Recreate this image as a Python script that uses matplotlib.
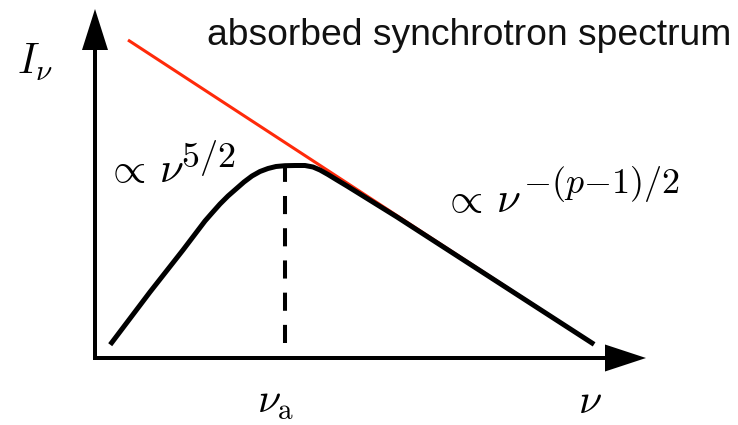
import matplotlib
matplotlib.use("Agg")
import matplotlib.pyplot as plt

plt.rcParams['mathtext.fontset'] = 'cm'

# spectrum shape (arbitrary units, log-log schematic)
nu = [0.334, 1.10, 1.76, 2.20, 2.34, 2.50, 2.66, 2.82, 2.98, 3.14, 3.30, 3.46,
      3.62, 3.80, 4.00, 4.20, 4.36, 4.50, 4.66, 4.84, 5.04, 6.04, 9.94]
intensity = [0.306, 1.32, 2.16, 2.74, 2.90, 3.08, 3.24, 3.38, 3.52, 3.64, 3.73, 3.79,
             3.83, 3.846, 3.85, 3.85, 3.82, 3.76, 3.67, 3.56, 3.44, 2.82, 0.30]

# optically thin power law
thin_nu = [0.66, 9.94]
thin_I = [6.36, 0.30]

nu_a = 3.80
dash_bottom, dash_top = 0.30, 3.80

fig = plt.figure(figsize=(7.38, 4.25), dpi=100)
ax = fig.add_axes([0, 0, 1, 1])
ax.set_xlim(-1.9, 12.86)
ax.set_ylim(-1.34, 7.16)
ax.axis('off')

# axes with arrow heads
ax.arrow(0, -0.04, 0, 7.02, width=0.08, head_width=0.52, head_length=0.82,
         length_includes_head=True, fc='k', ec='none')
ax.arrow(-0.04, 0, 11.06, 0, width=0.08, head_width=0.54, head_length=0.82,
         length_includes_head=True, fc='k', ec='none')

ax.plot(thin_nu, thin_I, color='#ff2a0a', lw=2.2, solid_capstyle='butt')
ax.plot(nu, intensity, color='k', lw=3.6, solid_joinstyle='round')
ax.plot([nu_a, nu_a], [dash_bottom, dash_top], color='k', lw=2.9,
        linestyle=(0, (4.5, 3.5)))

ax.text(2.24, 6.26, 'absorbed synchrotron spectrum', fontsize=26.8,
        family='Liberation Sans', color='#111111', va='baseline')
ax.text(-1.56, 5.68, r'$I_\nu$', fontsize=30, va='baseline')

# power-law labels, exponents set a bit larger than mathtext's script size
ax.text(0.20, 3.52, r'$\propto\,\nu$', fontsize=31, va='baseline')
ax.text(1.72, 3.82, r'$5/2$', fontsize=26, va='baseline')
ax.text(6.94, 2.92, r'$\propto\,\nu$', fontsize=31, va='baseline')
ax.text(8.56, 3.30, r'$-(p{-}1)/2$', fontsize=26, va='baseline')

ax.text(3.24, -1.10, r'$\nu_{\rm a}$', fontsize=30, va='baseline')
ax.text(9.66, -1.10, r'$\nu$', fontsize=30, va='baseline')

fig.savefig('out.png', dpi=100)
